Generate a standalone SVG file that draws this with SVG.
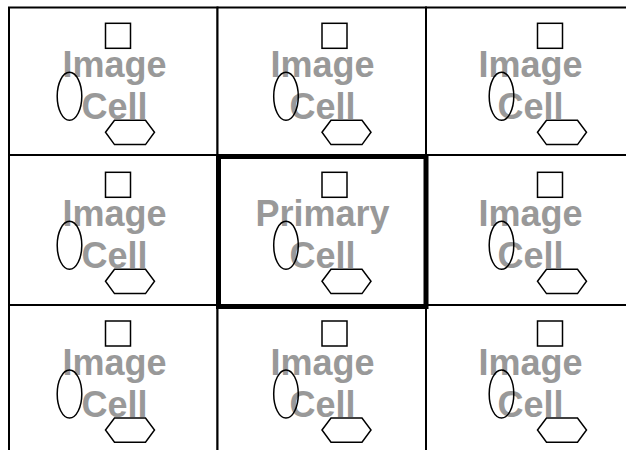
<svg xmlns="http://www.w3.org/2000/svg" width="626" height="450" viewBox="0 0 626 450">
<style>
.cell{fill:#fff;stroke:#000;stroke-width:2}
.lbl{font-family:"Liberation Sans",Arial,sans-serif;font-weight:bold;font-size:36px;fill:#999;text-anchor:middle}
.shp{fill:none;stroke:#000;stroke-width:1.5}
.primary{fill:none;stroke:#000;stroke-width:5}
</style>
<defs>
<g id="shapes">
<rect class="shp" x="0" y="0" width="25" height="25"/>
<ellipse class="shp" cx="-36" cy="73" rx="12.3" ry="24"/>
<polygon class="shp" points="0,109 9,97 40,97 49,109 40,121.3 9,121.3"/>
</g>
</defs>
<g id="grid-cells">
<g id="cell-0-0"><rect class="cell" x="9" y="7.5" width="208.5" height="147.5"/></g>
<g id="cell-0-1"><rect class="cell" x="217.5" y="7.5" width="208.5" height="147.5"/></g>
<g id="cell-0-2"><rect class="cell" x="426" y="7.5" width="208.5" height="147.5"/></g>
<g id="cell-1-0"><rect class="cell" x="9" y="155" width="208.5" height="150"/></g>
<g id="cell-1-1"><rect class="cell" x="217.5" y="155" width="208.5" height="150"/></g>
<g id="cell-1-2"><rect class="cell" x="426" y="155" width="208.5" height="150"/></g>
<g id="cell-2-0"><rect class="cell" x="9" y="305" width="208.5" height="150"/></g>
<g id="cell-2-1"><rect class="cell" x="217.5" y="305" width="208.5" height="150"/></g>
<g id="cell-2-2"><rect class="cell" x="426" y="305" width="208.5" height="150"/></g>
</g>
<g id="labels">
<text class="lbl" x="114.5" y="77">Image</text><text class="lbl" x="114.5" y="119">Cell</text>
<text class="lbl" x="322.5" y="77">Image</text><text class="lbl" x="322.5" y="119">Cell</text>
<text class="lbl" x="530.5" y="77">Image</text><text class="lbl" x="530.5" y="119">Cell</text>
<text class="lbl" x="114.5" y="226">Image</text><text class="lbl" x="114.5" y="268">Cell</text>
<text class="lbl" x="322.5" y="226">Primary</text><text class="lbl" x="322.5" y="268">Cell</text>
<text class="lbl" x="530.5" y="226">Image</text><text class="lbl" x="530.5" y="268">Cell</text>
<text class="lbl" x="114.5" y="374.5">Image</text><text class="lbl" x="114.5" y="416.5">Cell</text>
<text class="lbl" x="322.5" y="374.5">Image</text><text class="lbl" x="322.5" y="416.5">Cell</text>
<text class="lbl" x="530.5" y="374.5">Image</text><text class="lbl" x="530.5" y="416.5">Cell</text>
</g>
<g id="cell-shapes">
<use href="#shapes" x="105.5" y="23.3"/>
<use href="#shapes" x="322" y="23.3"/>
<use href="#shapes" x="537.5" y="23.3"/>
<use href="#shapes" x="105.5" y="172.3"/>
<use href="#shapes" x="322" y="172.3"/>
<use href="#shapes" x="537.5" y="172.3"/>
<use href="#shapes" x="105.5" y="321"/>
<use href="#shapes" x="322" y="321"/>
<use href="#shapes" x="537.5" y="321"/>
</g>
<g id="primary-cell"><rect class="primary" x="218.5" y="156.5" width="207.5" height="150"/></g>
</svg>
